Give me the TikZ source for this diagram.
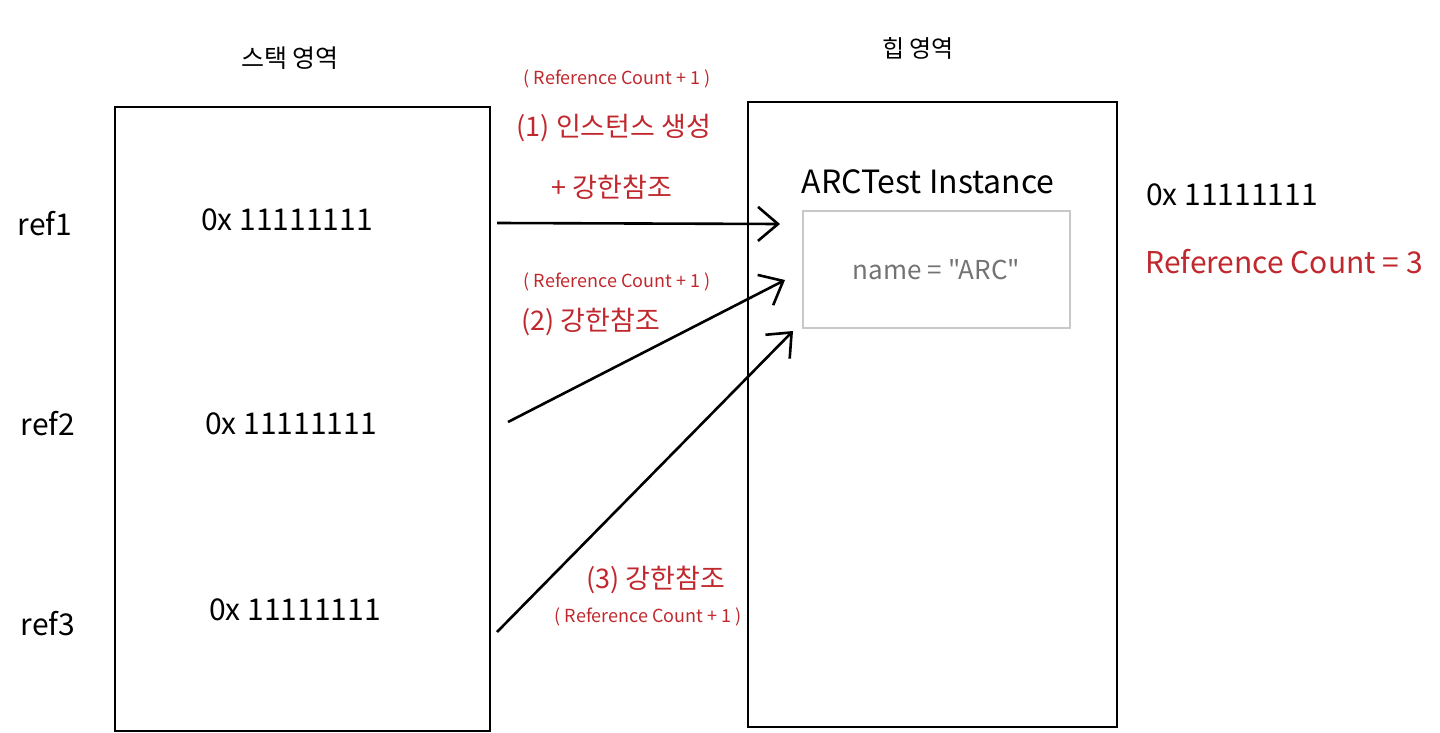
\documentclass[tikz,border=0pt]{standalone}
\usepackage{fontspec}
\setmainfont{Noto Sans CJK KR}
\newfontfamily\plainquote{Noto Sans CJK KR}
\usepackage{xcolor}
\usepackage{tikz}
\usetikzlibrary{positioning,arrows.meta}
\definecolor{refred}{HTML}{C0282D}
\definecolor{boxgray}{HTML}{C8C8C8}

\begin{document}
\begin{tikzpicture}[
  x=1pt,y=-1pt,
  addr/.style={font=\fontsize{30}{34}\selectfont},
  title/.style={font=\fontsize{25}{28}\selectfont},
  redtxt/.style={text=refred,font=\fontsize{27}{30}\selectfont},
  rcsmall/.style={text=refred,font=\fontsize{18}{20}\selectfont},
  ptr/.style={line width=2.6pt,-{Straight Barb[length=20pt,width=34pt,line width=2.6pt]}},
  every node/.style={inner sep=0pt,anchor=center},
]
\useasboundingbox (0,0) rectangle (1440,733);
% stack and heap areas
\draw[line width=2.8pt] (115,107) rectangle (490,731);
\draw[line width=2.8pt] (748,102) rectangle (1117,727);
\node[title] (stack) at (290,58) {스택 영역};
\node[title,font=\fontsize{24}{28}\selectfont] (heap) at (918,48) {힙 영역};
% references on the stack
\node[addr] (ref1) at (45,224) {ref1};
\node[addr] (ref2) at (48,424) {ref2};
\node[addr] (ref3) at (48,624) {ref3};
\node[addr] (a1) at (287,220) {0x 11111111};
\node[addr] (a2) at (291,424) {0x 11111111};
\node[addr] (a3) at (295,610) {0x 11111111};
% instance on the heap
\node[title,font=\fontsize{32}{36}\selectfont] (inst) at (928,182) {ARCTest Instance};
\node[draw=boxgray,line width=2.4pt,minimum width=267pt,minimum height=117pt,
  text=black!55,font=\plainquote\fontsize{26}{30}\selectfont] (obj) at (936.5,269.5) {name = "ARC"};
\node[addr] (heapaddr) at (1232,195) {0x 11111111};
\node[redtxt,font=\fontsize{30}{34}\selectfont] (rc) at (1284,262) {Reference Count = 3};
% arrow ends
\coordinate (s1) at (497,223);
\coordinate (s2) at (508,422);
\coordinate (s3) at (497,632);
\coordinate (e1) at (780,224);
\coordinate (e2) at (785,280);
\coordinate (e3) at (793,331);
\draw[ptr] (s1) -- (e1);
\draw[ptr] (s2) -- (e2);
\draw[ptr] (s3) -- (e3);
% labels on the arrows
\node[rcsmall] (rc1) at (617,79) {( Reference Count + 1 )};
\node[redtxt] (lab1) at (614,128) {(1) 인스턴스 생성};
\node[redtxt] (lab1b) at (612,187) {+ 강한참조};
\node[rcsmall] (rc2) at (617,282) {( Reference Count + 1 )};
\node[redtxt] (lab2) at (591,322) {(2) 강한참조};
\node[redtxt] (lab3) at (656,580) {(3) 강한참조};
\node[rcsmall] (rc3) at (648,617) {( Reference Count + 1 )};
\end{tikzpicture}
\end{document}
